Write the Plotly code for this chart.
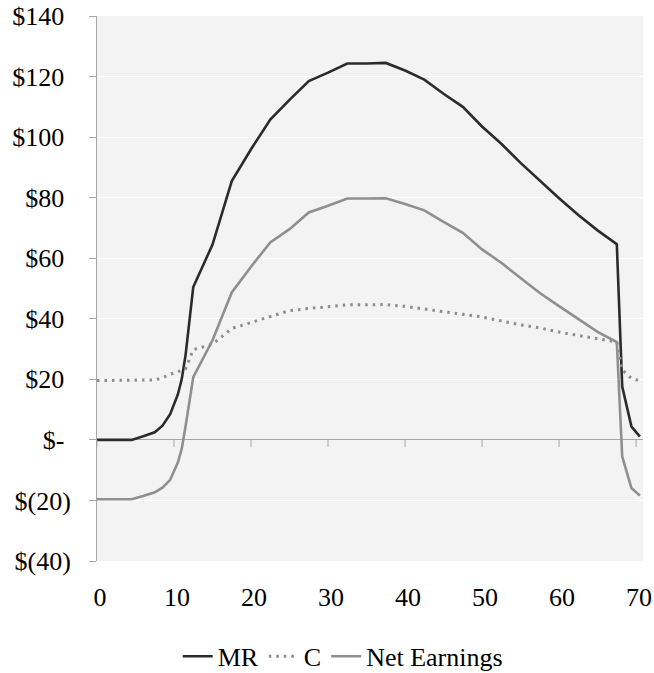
import plotly.graph_objects as go

# Age (years) at each sample point
ages = [0, 4.5, 6, 7.5, 8.5, 9.5, 10.5, 11, 11.5, 12.5, 15, 17.5, 20, 22.5, 25,
        27.5, 30, 32.5, 35, 37.5, 40, 42.5, 45, 47.5, 50, 52.5, 55, 57.5, 60,
        62.5, 65, 67.5, 68.2, 69.4, 70.5]

# Marginal revenue
mr = [0, 0, 1.2, 2.5, 4.7, 8.5, 15, 20, 28, 50.5, 64.5, 85.5, 96, 105.8, 112.3,
      118.5, 121.3, 124.3, 124.3, 124.5, 122, 119, 114.3, 110, 103.5, 97.8,
      91.5, 85.5, 79.8, 74.3, 69.2, 64.6, 17.6, 4.4, 1.1]

# Cost
cost = [19.6, 19.6, 19.7, 19.8, 20.5, 21.7, 22.5, 23.0, 23.5, 29.8, 31.6, 36.8,
        38.8, 40.6, 42.7, 43.4, 44.0, 44.6, 44.6, 44.7, 44.1, 43.2, 42.3, 41.6,
        40.6, 39.3, 38.0, 37.0, 35.6, 34.5, 33.5, 32.3, 23.1, 20.3, 19.5]

# Net earnings
net = [-19.6, -19.6, -18.5, -17.3, -15.8, -13.2, -7.5, -3.0, 4.5, 20.7, 32.9,
       48.7, 57.2, 65.2, 69.6, 75.1, 77.3, 79.7, 79.7, 79.8, 77.9, 75.8, 72.0,
       68.4, 62.9, 58.5, 53.5, 48.5, 44.2, 39.8, 35.7, 32.3, -5.5, -15.9, -18.4]

x_ticks = [0, 10, 20, 30, 40, 50, 60, 70]
y_ticks = [-40, -20, 0, 20, 40, 60, 80, 100, 120, 140]
# accounting style: positive values keep a trailing pad where ")" would sit
NBSP = "\u00a0"
y_labels = ["$(40)", "$(20)", "$-" + NBSP, "$20" + NBSP, "$40" + NBSP, "$60" + NBSP,
            "$80" + NBSP, "$100" + NBSP, "$120" + NBSP, "$140" + NBSP]

FONT = "Liberation Serif"
FSIZE = 26
AXIS_GRAY = "#a6a6a6"

fig = go.Figure()
fig.add_trace(go.Scatter(x=ages, y=mr, name="MR", mode="lines",
                         line=dict(color="#2b2b2b", width=2.6)))
fig.add_trace(go.Scatter(x=ages, y=cost, name="C", mode="lines",
                         line=dict(color="#8c8c8c", width=3, dash="2.5px,5px")))
fig.add_trace(go.Scatter(x=ages, y=net, name="Net Earnings", mode="lines",
                         line=dict(color="#8f8f8f", width=2.6)))

# small tick marks hanging below the zero line
for t in x_ticks:
    fig.add_shape(type="line", xref="x", yref="y", x0=t, x1=t,
                  ysizemode="pixel", yanchor=0, y0=0, y1=-7,
                  line=dict(color=AXIS_GRAY, width=1))

fig.update_layout(
    width=654, height=673, autosize=False,
    margin=dict(l=97, r=11, t=16, b=112, autoexpand=False),
    paper_bgcolor="white",
    plot_bgcolor="#f3f3f3",
    font=dict(family=FONT, size=FSIZE, color="black"),
    showlegend=True,
    legend=dict(orientation="h", x=0.45, xanchor="center", y=-0.175,
                yanchor="middle", font=dict(family=FONT, size=FSIZE),
                bgcolor="rgba(0,0,0,0)", itemwidth=30, tracegroupgap=0),
    xaxis=dict(range=[0, 70.9], tickvals=x_ticks, ticktext=[str(t) for t in x_ticks],
               showgrid=False, zeroline=False, showline=False, ticks="",
               automargin=False, tickfont=dict(family=FONT, size=FSIZE),
               ticklabelstandoff=18, ticklabelshift=3),
    yaxis=dict(range=[-40, 140], tickvals=y_ticks, ticktext=y_labels,
               showgrid=True, gridcolor="white", gridwidth=1,
               zeroline=True, zerolinecolor=AXIS_GRAY, zerolinewidth=1,
               showline=True, linecolor=AXIS_GRAY, linewidth=1,
               ticks="outside", ticklen=7, tickcolor=AXIS_GRAY,
               automargin=False, tickfont=dict(family=FONT, size=FSIZE),
               ticklabelstandoff=13),
)

fig.write_html("out.html")
